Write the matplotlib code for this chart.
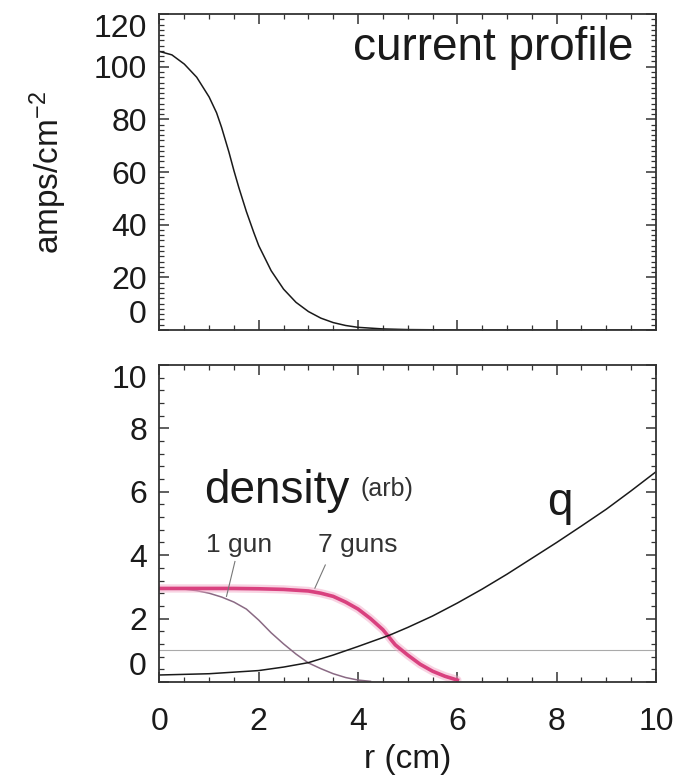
import matplotlib
matplotlib.use("Agg")
import matplotlib.pyplot as plt
import numpy as np
from matplotlib.ticker import MultipleLocator

plt.rcParams['font.family'] = ['Liberation Sans', 'DejaVu Sans']
plt.rcParams['mathtext.default'] = 'regular'

# current density profile (amps/cm^2) vs radius
r_j = [0, 0.25, 0.5, 0.75, 1.0, 1.15, 1.25, 1.4, 1.5, 1.6, 1.75, 1.9, 2.0,
       2.25, 2.5, 2.75, 3.0, 3.25, 3.5, 3.75, 4.0, 4.5, 5, 6, 7, 8, 9, 10]
j_prof = [105.8, 104.5, 101, 96, 88.5, 82.5, 77, 67.5, 60.5, 54, 45, 37, 32,
          22.5, 15.5, 10.5, 7, 4.5, 2.8, 1.7, 1.0, 0.4, 0.15, 0, 0, 0, 0, 0]

# safety factor q
r_q = [0, 1, 2, 2.5, 3, 3.5, 4, 4.64, 5, 5.5, 6, 6.5, 7, 7.5, 8, 8.5, 9, 9.5, 10]
q_prof = [0.22, 0.26, 0.36, 0.47, 0.61, 0.85, 1.12, 1.48, 1.72, 2.08, 2.49,
          2.93, 3.4, 3.9, 4.4, 4.92, 5.45, 6.03, 6.63]

# density, 1 gun
r_n1 = [0, 0.5, 0.75, 1.0, 1.25, 1.5, 1.75, 2.0, 2.25, 2.5, 2.75, 3.0,
        3.25, 3.5, 3.75, 4.0, 4.25]
n_1gun = [2.95, 2.93, 2.88, 2.8, 2.68, 2.52, 2.3, 1.95, 1.55, 1.2, 0.88, 0.6,
          0.42, 0.26, 0.14, 0.06, 0.02]

# density, 7 guns
r_n7 = [0, 0.5, 1, 1.5, 2, 2.5, 3, 3.25, 3.5, 3.75, 4, 4.25, 4.5, 4.75,
        5, 5.25, 5.5, 5.75, 6]
n_7gun = [2.95, 2.95, 2.95, 2.95, 2.94, 2.92, 2.87, 2.8, 2.7, 2.52, 2.3, 2.0,
          1.65, 1.17, 0.85, 0.56, 0.34, 0.18, 0.06]

q_ref = 1.0

fig = plt.figure(figsize=(6.97, 7.81), dpi=100)
ax1 = fig.add_axes([0.2288, 0.5775, 0.7123, 0.4045])
ax2 = fig.add_axes([0.2288, 0.1268, 0.7123, 0.4059])

ink = '#1a1a1a'

def style(ax, ymaj, ymin):
    ax.set_xlim(0, 10)
    ax.xaxis.set_major_locator(MultipleLocator(2))
    ax.xaxis.set_minor_locator(MultipleLocator(0.5))
    ax.yaxis.set_major_locator(MultipleLocator(ymaj))
    ax.yaxis.set_minor_locator(MultipleLocator(ymin))
    ax.tick_params(which='both', direction='in', top=True, right=True,
                   colors='#333333', labelcolor=ink, labelsize=23)
    ax.tick_params(which='major', length=7, width=1.1)
    ax.tick_params(which='minor', length=3.5, width=0.9)
    ax.tick_params(axis='y', pad=9)
    ax.tick_params(axis='x', pad=18)
    for s in ax.spines.values():
        s.set_linewidth(1.3)
        s.set_color('#333333')

# top panel
style(ax1, 20, 2)
ax1.set_ylim(0, 120)
ax1.plot(r_j, j_prof, color=ink, lw=1.1)
ax1.tick_params(axis='x', labelbottom=False)
ax1.set_ylabel('amps/cm$^{-2}$', fontsize=24, color=ink, labelpad=18)
ax1.text(9.55, 102.5, 'current profile', fontsize=33, ha='right',
         va='baseline', color=ink)

# bottom panel
style(ax2, 2, 0.4)
ax2.set_ylim(0, 10)
ax2.axhline(q_ref, color='#aaaaaa', lw=0.8)
ax2.plot(r_n1, n_1gun, color='#8a6a84', lw=1.1)
ax2.plot(r_n7, n_7gun, color='#f2a9c6', lw=6, alpha=0.5, solid_capstyle='round')
ax2.plot(r_n7, n_7gun, color='#d9417f', lw=2.6)
ax2.plot(r_q, q_prof, color=ink, lw=1.1)
ax2.set_xlabel('r (cm)', fontsize=24, color=ink, labelpad=5)

ax2.text(0.9, 5.65, 'density', fontsize=33, va='baseline', color=ink)
ax2.text(4.05, 5.87, '(arb)', fontsize=18, va='baseline', color='#333333')
ax2.text(0.93, 4.11, '1 gun', fontsize=19, va='baseline', color='#333333')
ax2.text(3.2, 4.11, '7 guns', fontsize=19, va='baseline', color='#333333')
ax2.text(7.81, 5.27, 'q', fontsize=33, va='baseline', color=ink)
ax2.plot([1.52, 1.35], [3.8, 2.7], color='#777777', lw=0.8)
ax2.plot([3.34, 3.13], [3.69, 2.96], color='#777777', lw=0.8)

# keep end labels inside the frame
for ax in (ax1, ax2):
    ticks = ax.yaxis.get_major_ticks()
    locs = ax.get_yticks()
    lo, hi = ax.get_ylim()
    for t, v in zip(ticks, locs):
        if np.isclose(v, hi):
            t.label1.set_va('top')
        elif np.isclose(v, lo):
            t.label1.set_va('bottom')

fig.savefig('out.png', dpi=100)
